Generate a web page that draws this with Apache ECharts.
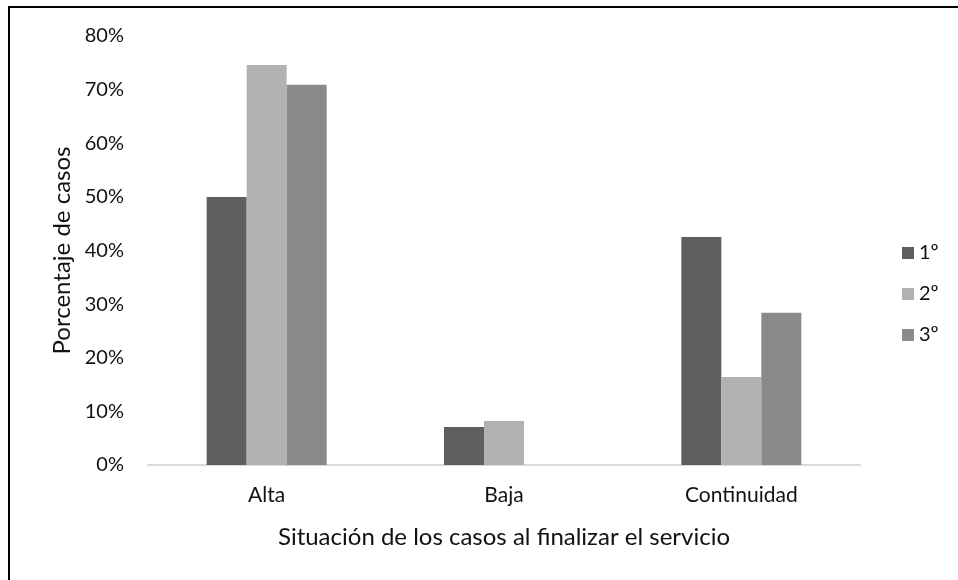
<!DOCTYPE html>
<html lang="es">
<head>
    <meta charset="UTF-8">
    <title>Situación de los casos</title>
    <script src="https://cdn.jsdelivr.net/npm/echarts@6/dist/echarts.min.js"></script>
    <style>
        html, body { margin: 0; padding: 0; background: #fff; }
    </style>
</head>
<body>
<div id="main" style="width: 958px;height:580px;"></div>
<script>
    // categorias y valores (%)
    var categorias = ['Alta', 'Baja', 'Continuidad'];
    var serie1 = [50.0, 7.1, 42.5];   // 1º
    var serie2 = [74.6, 8.2, 16.4];   // 2º
    var serie3 = [70.9, 0, 28.4];     // 3º
    var nombres = ['1º', '2º', '3º'];
    var colores = ['#5f5f5f', '#b2b2b2', '#8a8a8a'];

    var fuente = 'Lato, "Open Sans", sans-serif';

    var myChart = echarts.init(document.getElementById('main'));
    var option = {
        animation: false,
        color: colores,
        textStyle: { fontFamily: fuente },
        graphic: [{
            type: 'rect',
            shape: { x: 9, y: 7, width: 1000, height: 1000 },
            style: { fill: 'none', stroke: '#000', lineWidth: 2 },
            silent: true
        }],
        legend: {
            data: nombres,
            orient: 'vertical',
            left: 897,
            top: 238,
            itemWidth: 12,
            itemHeight: 12,
            itemGap: 21,
            icon: 'rect',
            textStyle: { fontSize: 20, color: '#111', fontFamily: fuente }
        },
        grid: {
            left: 148,
            right: 98,
            top: 36,
            bottom: 115,
            containLabel: false
        },
        xAxis: {
            type: 'category',
            data: categorias,
            name: 'Situación de los casos al finalizar el servicio',
            nameLocation: 'middle',
            nameGap: 60,
            nameTextStyle: { fontSize: 24, color: '#111', fontFamily: fuente },
            axisLine: { lineStyle: { color: '#d9d9d9', width: 2 } },
            axisTick: { show: false },
            axisLabel: { margin: 20, fontSize: 21, color: '#111', fontFamily: fuente }
        },
        yAxis: {
            type: 'value',
            min: 0,
            max: 80,
            interval: 10,
            name: 'Porcentaje de casos',
            nameLocation: 'middle',
            nameGap: 71,
            nameTextStyle: { fontSize: 24, color: '#111', fontFamily: fuente },
            axisLine: { show: false },
            axisTick: { show: false },
            splitLine: { show: false },
            axisLabel: { margin: 24, fontSize: 20, color: '#111', fontFamily: fuente, formatter: '{value}%' }
        },
        series: [
            { name: nombres[0], type: 'bar', data: serie1, barWidth: 40, barGap: '0%' },
            { name: nombres[1], type: 'bar', data: serie2, barWidth: 40, barGap: '0%' },
            { name: nombres[2], type: 'bar', data: serie3, barWidth: 40, barGap: '0%' }
        ]
    };
    myChart.setOption(option);
</script>
</body>
</html>
